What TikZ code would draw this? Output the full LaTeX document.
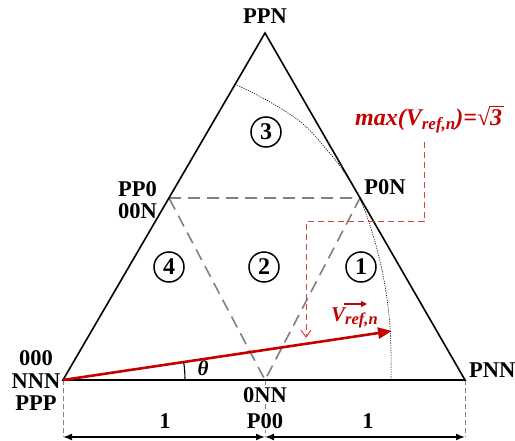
\documentclass[tikz,border=0pt]{standalone}
\usepackage{fontspec}
\setmainfont{Liberation Serif}
\usetikzlibrary{arrows.meta}
\definecolor{vred}{RGB}{196,0,0}
\definecolor{dred}{RGB}{232,60,60}
\definecolor{dgray}{RGB}{128,128,128}
\newcommand\lowsub[3]{\raisebox{-#2}{\fontsize{#1}{#1}\selectfont #3}}
\begin{document}
\begin{tikzpicture}[x=1pt,y=-1pt,
  lbl/.style={font=\fontsize{22.5}{22.5}\selectfont\bfseries, inner sep=0pt, align=center},
  num/.style={draw, circle, line width=1.5pt, minimum size=30pt, inner sep=0pt, font=\fontsize{24}{24}\selectfont\bfseries},
  tri/.style={line width=1.6pt, line join=miter},
  inner/.style={dgray, line width=1.6pt, dash pattern=on 12pt off 7pt},
  guide/.style={dgray, line width=1pt, dash pattern=on 5pt off 3pt},
  reddash/.style={dred, line width=1pt, dash pattern=on 6pt off 4pt},
  dim/.style={line width=1.6pt, {Latex[length=9pt,width=7pt]}-{Latex[length=9pt,width=7pt]}}]
\useasboundingbox (0,0) rectangle (515,441);
\coordinate (O) at (63,380);
\coordinate (R) at (465,380);
\coordinate (T) at (265,33);
\coordinate (M) at (265,380);
\coordinate (A) at (169,198);
\coordinate (B) at (360,198);
\coordinate (V) at (392,331);
% guides below base
\coordinate (Od) at (63,437);
\coordinate (Md) at (265,437);
\coordinate (Rd) at (465,437);
\draw[guide] (O) -- (Od);
\draw[guide] (M) -- (Md);
\draw[guide] (R) -- (Rd);
% inner dashed triangle
\draw[inner] (A) -- (B) -- (M) -- cycle;
% dotted arc
\draw[line width=0.6pt, dash pattern=on 1.2pt off 1.2pt] plot[smooth, tension=0.6] coordinates {(237,85) (270,102) (303,124) (327,150) (342,169) (360,199) (373,235) (383,275) (389,315) (391,350) (391,380)};
% main triangle
\draw[tri] (O) -- (R) -- (T) -- cycle;
% red dashed leader
\coordinate (L1) at (424,142);
\coordinate (L2) at (424,222);
\coordinate (L3) at (306,222);
\coordinate (L4) at (306,338);
\draw[reddash, -{Straight Barb[length=7pt,width=10pt,line width=1pt]}] (L1) -- (L2) -- (L3) -- (L4);
% reference vector
\draw[vred, line width=2.6pt, -{Triangle[length=14pt,width=11pt]}] (O) -- (V);
% angle
\draw[line width=1.1pt] (185,380) arc[start angle=0, end angle=-8.4, radius=122];
\node[font=\fontsize{21}{21}\selectfont\itshape\bfseries] (th) at (203,368) {θ};
% dimension arrows
\draw[dim] (Od) -- (Md);
\draw[dim] (Md) -- (Rd);
\node[lbl] (one1) at (165,421) {1};
\node[lbl] (one2) at (368,421) {1};
% vertex labels
\node[lbl] (ppn) at (265,16) {PPN};
\node[lbl, anchor=east, align=right] (pp0) at (157,200) {PP0\\00N};
\node[lbl] (p0n) at (385,187) {P0N};
\node[lbl] (ooo) at (36,381) {000\\NNN\\PPP};
\node[lbl, anchor=west] (pnn) at (469,370) {PNN};
\node[lbl, fill=white, inner sep=1pt] (onn) at (265,395) {0NN};
\node[lbl, fill=white, inner sep=1pt] (p00) at (265,421) {P00};
% region numbers
\node[num] (n3) at (266,132) {3};
\node[num] (n4) at (169,267) {4};
\node[num] (n2) at (264,267) {2};
\node[num] (n1) at (361,267) {1};
% red labels
\node[vred, font=\fontsize{24}{24}\selectfont\bfseries\itshape, inner sep=0pt, anchor=base west] (maxl) at (355,126) {max(V\lowsub{17}{4pt}{ref,n})=√\rlap{\rule[18.5pt]{14pt}{1.1pt}}3};
\node[vred, font=\fontsize{21}{21}\selectfont\bfseries\itshape, inner sep=0pt, anchor=base west] (vl) at (331,322) {V\lowsub{16.5}{3pt}{ref,n}};
\draw[vred, line width=1.6pt, -{Triangle[length=6pt,width=6pt]}] ([xshift=13pt,yshift=18pt]vl.base west) -- ([xshift=36pt,yshift=18pt]vl.base west);
\end{tikzpicture}
\end{document}
